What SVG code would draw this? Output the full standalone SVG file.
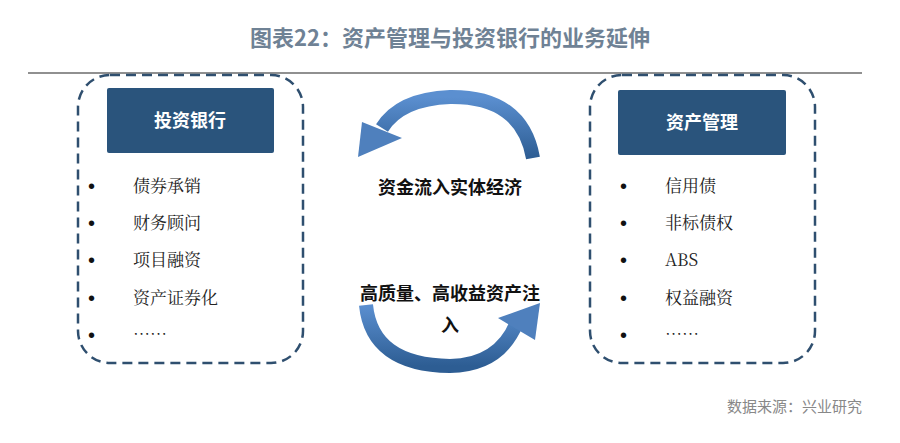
<svg xmlns="http://www.w3.org/2000/svg" width="900" height="443" viewBox="0 0 900 443">
<defs>
<linearGradient id="g" x1="0" y1="0" x2="0" y2="1"><stop offset="0" stop-color="#5b8fd0"/><stop offset="1" stop-color="#2d5d93"/></linearGradient>
<style>
.box{fill:none;stroke:#2f4f6f;stroke-width:2.5;stroke-dasharray:10 6}
.hd{fill:#2a547c}
.ht{font-family:"Noto Sans CJK SC",sans-serif;font-weight:bold;font-size:18px;fill:#fff;text-anchor:middle}
.it{font-family:"Noto Serif CJK SC","Noto Sans CJK SC",serif;font-size:17px;fill:#222}
.b{font-size:20px;fill:#111;font-family:"Liberation Sans",sans-serif}
.ml{font-family:"Noto Sans CJK SC",sans-serif;font-weight:bold;font-size:18px;fill:#111;text-anchor:middle}
</style>
</defs>
<rect width="900" height="443" fill="#fff"/>
<text x="450" y="46" text-anchor="middle" font-family="Noto Sans CJK SC,sans-serif" font-weight="bold" font-size="22" fill="#6f8295">图表22：资产管理与投资银行的业务延伸</text>
<line x1="28" y1="73" x2="862" y2="73" stroke="#222" stroke-width="1.2"/>
<g id="left">
<rect class="box" x="78" y="75" width="225" height="288" rx="32"/>
<rect class="hd" x="107" y="88" width="167" height="65" rx="2"/>
<text class="ht" x="190" y="127">投资银行</text>
<text class="b" x="88" y="193">•</text><text class="it" x="133" y="192">债券承销</text>
<text class="b" x="88" y="230">•</text><text class="it" x="133" y="229">财务顾问</text>
<text class="b" x="88" y="267">•</text><text class="it" x="133" y="266">项目融资</text>
<text class="b" x="88" y="305">•</text><text class="it" x="133" y="304">资产证券化</text>
<text class="b" x="88" y="342">•</text><text class="it" x="133" y="341">……</text>
</g>
<g id="right">
<rect class="box" x="590" y="75" width="225" height="288" rx="32"/>
<rect class="hd" x="618" y="90" width="168" height="65" rx="2"/>
<text class="ht" x="702" y="129">资产管理</text>
<text class="b" x="620" y="193">•</text><text class="it" x="665" y="192">信用债</text>
<text class="b" x="620" y="230">•</text><text class="it" x="665" y="229">非标债权</text>
<text class="b" x="620" y="267">•</text><text class="it" x="665" y="266" font-family="Liberation Serif,serif">ABS</text>
<text class="b" x="620" y="305">•</text><text class="it" x="665" y="304">权益融资</text>
<text class="b" x="620" y="342">•</text><text class="it" x="665" y="341">……</text>
</g>
<g id="connectors">
<path d="M533,158 Q522,96 450,97 Q400,99 382,128" fill="none" stroke="url(#g)" stroke-width="14"/>
<polygon points="362,122 402,138 358,157" fill="#4f80bd"/>
<path d="M366,305 Q372,365 450,366 Q500,365 517,322" fill="none" stroke="url(#g)" stroke-width="14"/>
<polygon points="498,318 540,303 535,340" fill="#4f80bd"/>
</g>
<text class="ml" x="450" y="194">资金流入实体经济</text>
<text class="ml" x="450" y="300">高质量、高收益资产注</text>
<text class="ml" x="450" y="332">入</text>
<text x="862" y="412" text-anchor="end" font-family="Noto Sans CJK SC,sans-serif" font-size="15" fill="#888">数据来源：兴业研究</text>
</svg>
